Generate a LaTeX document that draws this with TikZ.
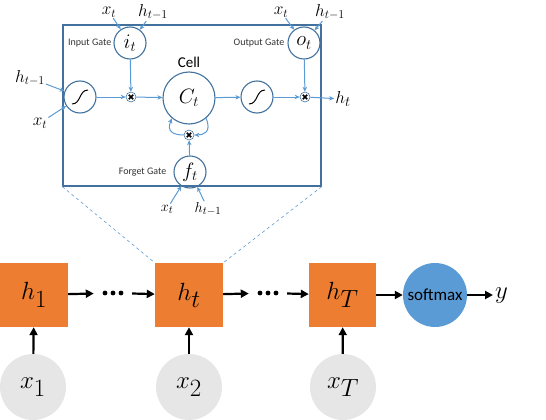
\documentclass[tikz,border=0pt]{standalone}
\usepackage{fontspec}
\setmainfont{Carlito}
\usetikzlibrary{arrows.meta,positioning}
\definecolor{randblau}{HTML}{41719C}
\definecolor{pfeilblau}{HTML}{5B9BD5}
\definecolor{hgelb}{HTML}{ED7D31}
\definecolor{xgrau}{HTML}{E7E6E6}
\tikzset{
	gate/.style={circle,draw=randblau,line width=1.1pt,minimum size=32pt,inner sep=0pt,font=\fontsize{20}{22}\selectfont},
	mult/.style={circle,draw=randblau,line width=0.6pt,minimum size=10pt,inner sep=0pt},
	flow/.style={pfeilblau,line width=1pt,-{Stealth[length=5pt,width=4.5pt]}},
	eing/.style={inner sep=1pt,font=\fontsize{17}{19}\selectfont},
	gatetext/.style={inner sep=0pt,font=\fontsize{10}{12}\selectfont,text=black!80},
	hbox/.style={rectangle,fill=hgelb,minimum width=68pt,minimum height=64pt,inner sep=0pt,font=\fontsize{38}{42}\selectfont},
	xin/.style={circle,fill=xgrau,minimum size=66pt,inner sep=0pt,font=\fontsize{38}{42}\selectfont},
	punkte/.style={minimum width=38pt,inner sep=0pt},
	fett/.style={line width=2.2pt,-{Triangle[length=8pt,width=8pt]}},
	sigmo/.pic={\draw[line width=1pt] (-8,7) .. controls (1,7) and (-1,-7) .. (8,-7);},
	kreuz/.pic={\draw[line width=1.7pt] (-2.2,-2.2) -- (2.2,2.2) (-2.2,2.2) -- (2.2,-2.2);}
}
\begin{document}
\begin{tikzpicture}[x=1pt,y=-1pt]
	\useasboundingbox (0,0) rectangle (546,420);
	% LSTM-Zelle
	\node[draw=randblau,line width=1.3pt,minimum width=258pt,minimum height=161pt,inner sep=0pt] (zelle) at (192,105.5) {};
	\node[gate] (it) at (130,43) {$i_t$};
	\node[gate] (ot) at (304,43) {$o_t$};
	\node[gate] (sig1) at (80,97) {};
	\node[mult] (m1) at (131,97) {};
	\node[gate,minimum size=52pt] (ct) at (189,98) {$C_t$};
	\node[gate] (sig2) at (257,97) {};
	\node[mult] (m2) at (305,97) {};
	\node[mult] (m3) at (189,135) {};
	\node[gate] (ft) at (190,172) {$f_t$};
	\pic at (sig1) {sigmo};
	\pic at (sig2) {sigmo};
	\foreach \m in {m1,m2,m3} \pic at (\m) {kreuz};
	\node[gatetext,left=2pt of it] {Input Gate};
	\node[gatetext,left=3pt of ot] {Output Gate};
	\node[gatetext,left=7pt of ft] {Forget Gate};
	\node[inner sep=0pt,font=\fontsize{15}{17}\selectfont,above=4pt of ct] {Cell};
	% Eingaenge
	\node[eing] (xi) at (109,12) {$x_t$};
	\node[eing] (hi) at (153,12) {$h_{t-1}$};
	\node[eing] (xo) at (281,12) {$x_t$};
	\node[eing] (ho) at (330,12) {$h_{t-1}$};
	\node[eing] (hl) at (30,78) {$h_{t-1}$};
	\node[eing] (xl) at (40,123) {$x_t$};
	\node[eing,font=\fontsize{15}{17}\selectfont] (xf) at (167,209) {$x_t$};
	\node[eing,font=\fontsize{15}{17}\selectfont] (hf) at (208,209) {$h_{t-1}$};
	\node[eing,font=\fontsize{19}{21}\selectfont] (hout) at (343,99) {$h_t$};
	\draw[flow] (xi) -- (it);
	\draw[flow] (hi) -- (it);
	\draw[flow] (xo) -- (ot);
	\draw[flow] (ho) -- (ot);
	\draw[flow] (hl) -- (sig1);
	\draw[flow] (xl) -- (sig1);
	\draw[flow] (xf) -- (ft);
	\draw[flow] (hf) -- (ft);
	\draw[flow] (sig1) -- (m1);
	\draw[flow] (it) -- (m1);
	\draw[flow] (m1) -- (ct);
	\draw[flow] (ct) -- (sig2);
	\draw[flow] (sig2) -- (m2);
	\draw[flow] (ot) -- (m2);
	\draw[flow] (m2) -- (hout);
	\draw[flow] (ft) -- (m3);
	\draw[flow] (ct.-50) .. controls +(6,14) and +(9,0) .. (m3.east);
	\draw[flow] (m3.west) .. controls +(-9,0) and +(-6,14) .. (ct.-130);
	% Kette
	\node[hbox] (h1) at (34,295) {$h_1$};
	\node[hbox] (ht) at (189,295) {$h_t$};
	\node[hbox,minimum width=67pt] (hT) at (342.5,295) {$h_T$};
	\node[circle,fill=pfeilblau,minimum size=64pt,inner sep=0pt,font=\fontsize{17}{20}\selectfont] (soft) at (435,295) {softmax};
	\node[anchor=west,inner sep=2pt,font=\fontsize{44}{48}\selectfont] (y) at (493,296) {$y$};
	\node[xin] (x1) at (33,387) {$x_1$};
	\node[xin] (x2) at (189,387) {$x_2$};
	\node[xin] (xT) at (343,387) {$x_T$};
	\node[punkte] (d1) at (113,293) {};
	\node[punkte] (d2) at (268,293) {};
	\foreach \d in {d1,d2}
		\foreach \dx in {-8,0,8} \fill ([xshift=\dx pt]\d.center) circle (2.4);
	\draw[fett] (h1) -- (d1);
	\draw[fett] (d1) -- (ht);
	\draw[fett] (ht) -- (d2);
	\draw[fett] (d2) -- (hT);
	\draw[fett] (hT) -- (soft);
	\draw[fett] (soft) -- (soft.east -| y.west);
	\draw[fett] (x1) -- (h1);
	\draw[fett] (x2) -- (ht);
	\draw[fett] (xT) -- (hT);
	% Lupe
	\draw[pfeilblau,dashed,line width=0.6pt] (zelle.south west) -- (ht.north west);
	\draw[pfeilblau,dashed,line width=0.6pt] (zelle.south east) -- (ht.north east);
\end{tikzpicture}
\end{document}
